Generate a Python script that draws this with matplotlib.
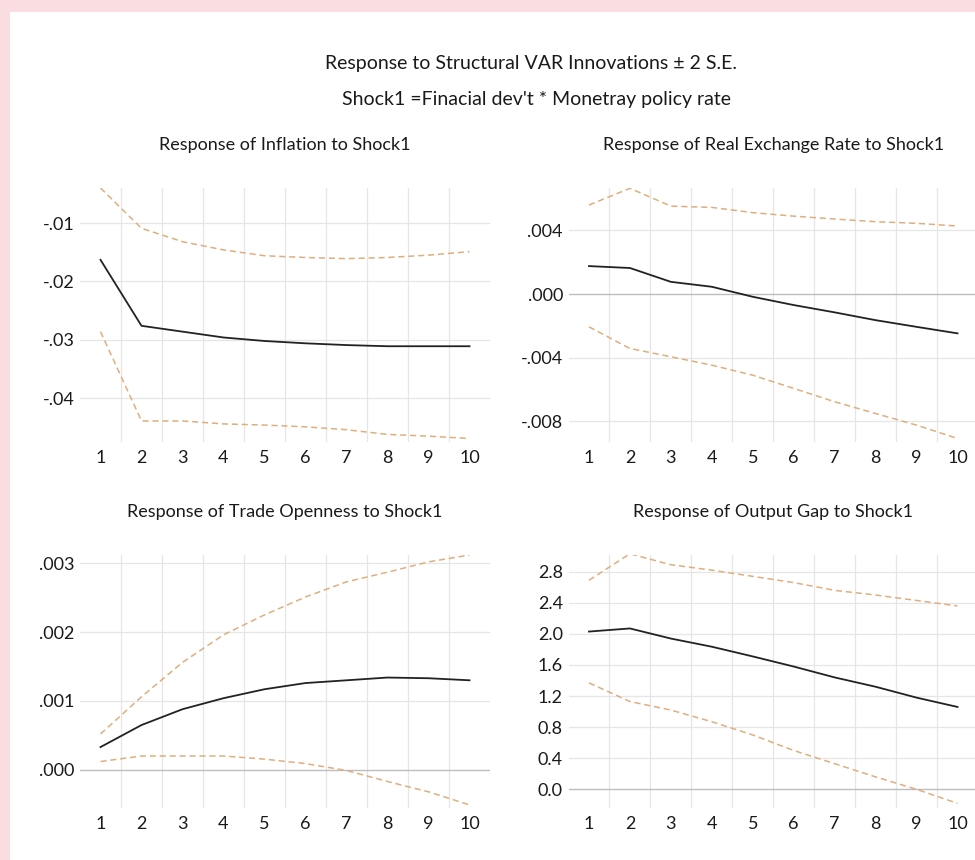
import matplotlib
matplotlib.use("Agg")
import matplotlib.pyplot as plt
from matplotlib.patches import Rectangle
from matplotlib.ticker import FuncFormatter

# impulse response periods
periods = [1, 2, 3, 4, 5, 6, 7, 8, 9, 10]

# Response of Inflation
infl_resp = [-0.0163, -0.0276, -0.0286, -0.0296, -0.0302, -0.0306, -0.0309, -0.0311, -0.0311, -0.0311]
infl_up = [-0.0040, -0.0109, -0.0132, -0.0146, -0.0156, -0.0159, -0.0161, -0.0159, -0.0155, -0.0149]
infl_lo = [-0.0286, -0.0439, -0.0439, -0.0444, -0.0446, -0.0449, -0.0454, -0.0462, -0.0465, -0.0469]

# Response of Real Exchange Rate
rer_resp = [0.00176, 0.00164, 0.00077, 0.00046, -0.00017, -0.00069, -0.00115, -0.00164, -0.00206, -0.00247]
rer_up = [0.00560, 0.00665, 0.00553, 0.00545, 0.00512, 0.00490, 0.00472, 0.00455, 0.00445, 0.00428]
rer_lo = [-0.00206, -0.00342, -0.00394, -0.00447, -0.00510, -0.00593, -0.00677, -0.00751, -0.00824, -0.00908]

# Response of Trade Openness
trade_resp = [0.00033, 0.00065, 0.00088, 0.00104, 0.00117, 0.00126, 0.00130, 0.00134, 0.00133, 0.00130]
trade_up = [0.00052, 0.00106, 0.00156, 0.00196, 0.00225, 0.00251, 0.00273, 0.00287, 0.00302, 0.00312]
trade_lo = [0.00012, 0.00020, 0.00020, 0.00020, 0.000155, 0.00009, -0.00001, -0.00017, -0.00032, -0.00051]

# Response of Output Gap
gap_resp = [2.03, 2.07, 1.94, 1.835, 1.71, 1.58, 1.44, 1.32, 1.18, 1.06]
gap_up = [2.69, 3.03, 2.89, 2.82, 2.74, 2.66, 2.56, 2.50, 2.43, 2.36]
gap_lo = [1.37, 1.13, 1.02, 0.87, 0.70, 0.50, 0.33, 0.16, 0.00, -0.18]

infl_ticks = [-0.04, -0.03, -0.02, -0.01]
rer_ticks = [-0.008, -0.004, 0.0, 0.004]
trade_ticks = [0.0, 0.001, 0.002, 0.003]
gap_ticks = [0.0, 0.4, 0.8, 1.2, 1.6, 2.0, 2.4, 2.8]

INK = "#1a1a1a"
RESP = "#222222"
BAND = "#dfae7e"
GRID = "#e6e6e6"
ZERO = "#bdbdbd"
W, H = 975, 860

plt.rcParams["font.family"] = "Lato"


def dec_fmt(ndig):
    # EViews style: ".004", "-.01"
    def f(v, pos):
        s = f"{v:.{ndig}f}"
        if s.startswith("-0."):
            s = "-" + s[2:]
        elif s.startswith("0."):
            s = s[1:]
        return s
    return FuncFormatter(f)


def panel(fig, box, title, resp, up, lo, yticks, ylim, fmt, zero):
    x0, y0, x1, y1 = box
    ax = fig.add_axes([x0 / W, 1 - y1 / H, (x1 - x0) / W, (y1 - y0) / H])
    ax.set_facecolor("none")
    for s in ax.spines.values():
        s.set_visible(False)
    ax.set_xlim(0.5, 10.5)
    ax.set_ylim(*ylim)
    for xv in [p + 0.5 for p in periods[:-1]]:
        ax.axvline(xv, color=GRID, lw=0.9, zorder=0)
    for yv in yticks:
        c = ZERO if (zero and abs(yv) < 1e-12) else GRID
        ax.axhline(yv, color=c, lw=1.0 if c == ZERO else 0.9, zorder=0)
    ax.plot(periods, up, color=BAND, lw=1.1, ls=(0, (4, 2.5)), zorder=2)
    ax.plot(periods, lo, color=BAND, lw=1.1, ls=(0, (4, 2.5)), zorder=2)
    ax.plot(periods, resp, color=RESP, lw=1.3, zorder=3)
    ax.set_xticks(periods)
    ax.set_yticks(yticks)
    ax.yaxis.set_major_formatter(fmt)
    ax.tick_params(length=0, labelsize=13, colors=INK)
    ax.tick_params(axis="x", pad=6)
    ax.tick_params(axis="y", pad=4)
    ax.set_title(title, fontsize=13, color=INK, pad=27)
    return ax


fig = plt.figure(figsize=(W / 100, H / 100), dpi=100)
fig.patch.set_facecolor("#f9dde1")
fig.patches.append(Rectangle((10 / W, 0), 1, 1 - 12 / H, transform=fig.transFigure,
                             facecolor="white", edgecolor="none", zorder=-10))

fig.text(531 / W, 1 - 63 / H, "Response to Structural VAR Innovations \u00b1 2 S.E.",
         ha="center", va="center", fontsize=14, color=INK)
fig.text(537 / W, 1 - 100 / H, "Shock1 =Finacial dev't * Monetray policy rate",
         ha="center", va="center", fontsize=14, color=INK)

panel(fig, (80, 188, 490, 442), "Response of Inflation to Shock1",
      infl_resp, infl_up, infl_lo, infl_ticks, (-0.0475, -0.004), dec_fmt(2), False)
panel(fig, (568.5, 188, 978, 442), "Response of Real Exchange Rate to Shock1",
      rer_resp, rer_up, rer_lo, rer_ticks, (-0.0093, 0.00667), dec_fmt(3), True)
panel(fig, (80, 555, 490, 808), "Response of Trade Openness to Shock1",
      trade_resp, trade_up, trade_lo, trade_ticks, (-0.000555, 0.00312), dec_fmt(3), True)
panel(fig, (568.5, 555, 978, 808), "Response of Output Gap to Shock1",
      gap_resp, gap_up, gap_lo, gap_ticks, (-0.24, 3.015),
      FuncFormatter(lambda v, p: f"{v:.1f}"), True)

fig.savefig("out.png", dpi=100)
